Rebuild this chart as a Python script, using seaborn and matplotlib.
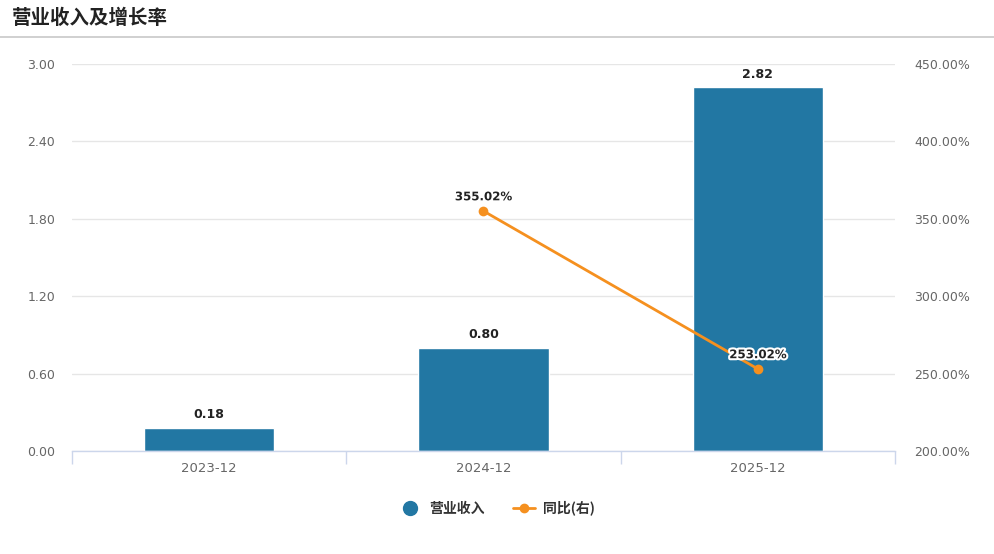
import numpy as np
import pandas as pd
import seaborn as sns
import matplotlib.pyplot as plt
from matplotlib.lines import Line2D
import matplotlib.patheffects as pe

# ==================================
# Data
# ==================================
periods = ['2023-12', '2024-12', '2025-12']
revenue = [0.18, 0.80, 2.82]
growth = [np.nan, 355.02, 253.02]

df = pd.DataFrame({'period': periods, 'revenue': revenue, 'growth': growth})

bar_color = '#2277a3'
line_color = '#f5901f'
tick_color = '#666666'

sns.set_style('white')
plt.rcParams['font.family'] = ['Noto Sans CJK SC', 'DejaVu Sans']
tick_font = 'DejaVu Sans'

fig = plt.figure(figsize=(9.94, 5.54), dpi=100)
ax = fig.add_axes([0.0724, 0.1859, 0.828, 0.6986])

# ==================================
# Bars (left axis)
# ==================================
sns.barplot(data=df, x='period', y='revenue', color=bar_color, width=0.475,
            saturation=1, ax=ax, zorder=2)
ax.set_ylim(0, 3.0)
yt = np.arange(0, 3.01, 0.6)
ax.set_yticks(yt)
ax.set_yticklabels([f'{v:.2f}' for v in yt], fontfamily=tick_font)
ax.set_xticks(range(len(periods)))
ax.set_xticklabels(periods, fontfamily=tick_font)
ax.set_xlim(-0.5, 2.5)
ax.grid(axis='y', color='#e6e6e6', linewidth=1, zorder=0)
ax.set_axisbelow(True)
for s in ['top', 'right', 'left']:
    ax.spines[s].set_visible(False)
ax.spines['bottom'].set_color('#ccd6eb')
ax.spines['bottom'].set_linewidth(1)
ax.set_xlabel('')
ax.set_ylabel('')
ax.tick_params(axis='y', length=0, labelsize=9, colors=tick_color, pad=12)
ax.tick_params(axis='x', length=0, labelsize=9.5, colors=tick_color, pad=8)
# category boundary ticks
ax.set_xticks([-0.5, 0.5, 1.5, 2.5], minor=True)
ax.tick_params(axis='x', which='minor', bottom=True, length=9,
               color='#ccd6eb', width=1)

for i, v in enumerate(revenue):
    ax.text(i, v + 0.05, f'{v:.2f}', ha='center', va='bottom', fontsize=9,
            fontfamily=tick_font, fontweight='bold', color='#222222')

# ==================================
# Growth line (right axis)
# ==================================
ax2 = ax.twinx()
sns.lineplot(data=df, x='period', y='growth', color=line_color, linewidth=2,
             marker='o', markersize=7, markeredgewidth=0, ax=ax2, zorder=3)
ax2.set_ylim(200, 450)
rt = np.arange(200, 451, 50)
ax2.set_yticks(rt)
ax2.set_yticklabels([f'{v:.2f}%' for v in rt], fontfamily=tick_font)
ax2.set_ylabel('')
for s in ax2.spines.values():
    s.set_visible(False)
ax2.tick_params(axis='y', length=0, labelsize=9, colors=tick_color, pad=14)

for i, v in enumerate(growth):
    if np.isnan(v):
        continue
    t = ax2.text(i, v + 5, f'{v:.2f}%', ha='center', va='bottom', fontsize=8.5,
                 fontfamily=tick_font, fontweight='bold', color='#222222')
    t.set_path_effects([pe.withStroke(linewidth=3, foreground='white')])

# ==================================
# Title, separator, legend
# ==================================
fig.text(12 / 994, 1 - 18 / 554, '营业收入及增长率', fontsize=14, fontweight='bold',
         color='#222222', ha='left', va='center')
fig.add_artist(Line2D([0, 1], [1 - 37 / 554, 1 - 37 / 554], color='#c8c8c8',
                      linewidth=1.2, transform=fig.transFigure))

handles = [
    Line2D([], [], color=bar_color, marker='o', linestyle='none', markersize=10),
    Line2D([], [], color=line_color, marker='o', linewidth=2, markersize=6),
]
fig.legend(handles, ['营业收入', '同比(右)'], loc='center', ncol=2,
           bbox_to_anchor=(0.5, 1 - 508 / 554), frameon=False,
           prop={'size': 10, 'weight': 'bold'}, labelcolor='#333333',
           handlelength=1.6, columnspacing=2.0, handletextpad=0.6)

plt.savefig('out.png', dpi=100)
